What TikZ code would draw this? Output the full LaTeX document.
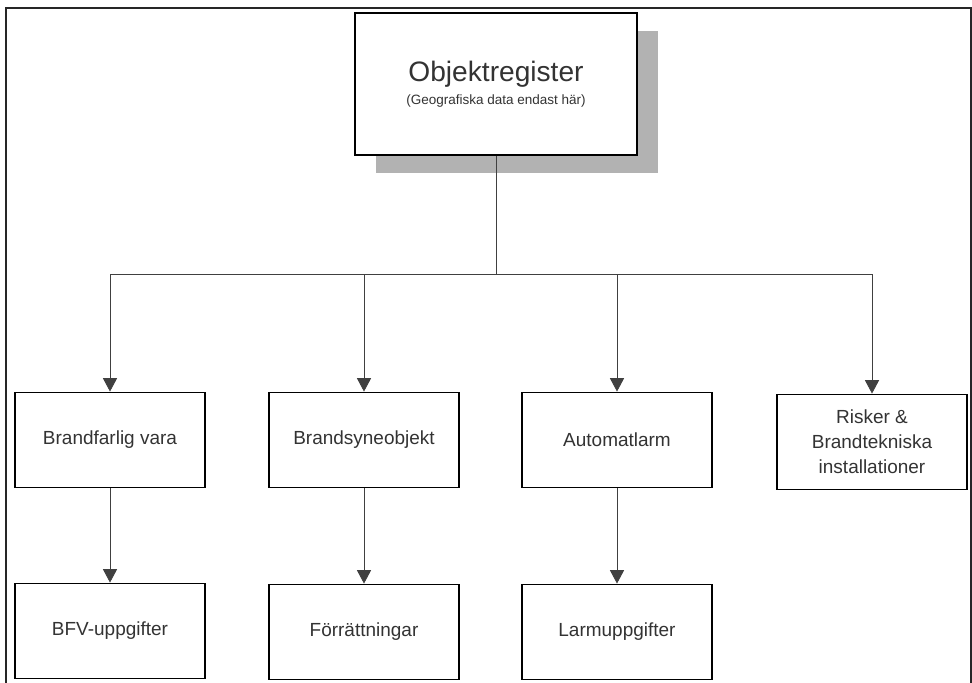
\documentclass[tikz,border=0pt]{standalone}
\usepackage{fontspec}
\setmainfont{Liberation Sans}
\usetikzlibrary{positioning,calc,arrows.meta,shadows}

\begin{document}
\begin{tikzpicture}[
            x=0.025cm, y=-0.025cm,
            box/.style={draw, line width=1.3pt, fill=white, minimum width=4.75cm, minimum height=2.375cm, align=center, font=\fontsize{13.5}{17.7}\selectfont, text=black!80},
            topbox/.style={draw, line width=1.3pt, fill=white, minimum width=7.05cm, minimum height=3.55cm, align=center, text=black!80,
                drop shadow={shadow xshift=0.52cm, shadow yshift=-0.44cm, fill=gray!60, opacity=1}},
            arr/.style={-{Triangle[width=10pt,length=9.5pt]}, line width=0.6pt, draw=black!75},
            frame/.style={line width=1.3pt, draw=black!85}
        ]
        \useasboundingbox (0,0) rectangle (972,683);

        % Outer frame
        \draw[frame] (6,683) -- (6,8) -- (971,8) -- (971,683);

        % Object register
        \node[topbox] (top) at (496,84) {{\fontsize{20}{24}\selectfont Objektregister}\\[4pt]
            {\fontsize{9.6}{12}\selectfont (Geografiska data endast här)}};

        % First row
        \node[box] (brandfarlig) at (110,440) {Brandfarlig vara};
        \node[box] (brandsyn) at (364,440) {Brandsyneobjekt};
        \node[box] (automat) at (617,440) {Automatlarm};
        \node[box] (risker) at (872,442) {Risker \&\\Brandtekniska\\installationer};

        % Second row
        \node[box] (bfv) at (110,631) {BFV-uppgifter};
        \node[box] (forratt) at (364,632) {Förrättningar};
        \node[box] (larm) at (617,632) {Larmuppgifter};

        % Tree from object register
        \coordinate (bus) at (494,274);
        \foreach \n in {brandfarlig,brandsyn,automat,risker}
            \draw[arr] (top.south) -- (top.south |- bus) -| (\n.north);

        % Arrows down to second row
        \draw[arr] (brandfarlig) -- (bfv);
        \draw[arr] (brandsyn) -- (forratt);
        \draw[arr] (automat) -- (larm);

        \end{tikzpicture}
\end{document}
